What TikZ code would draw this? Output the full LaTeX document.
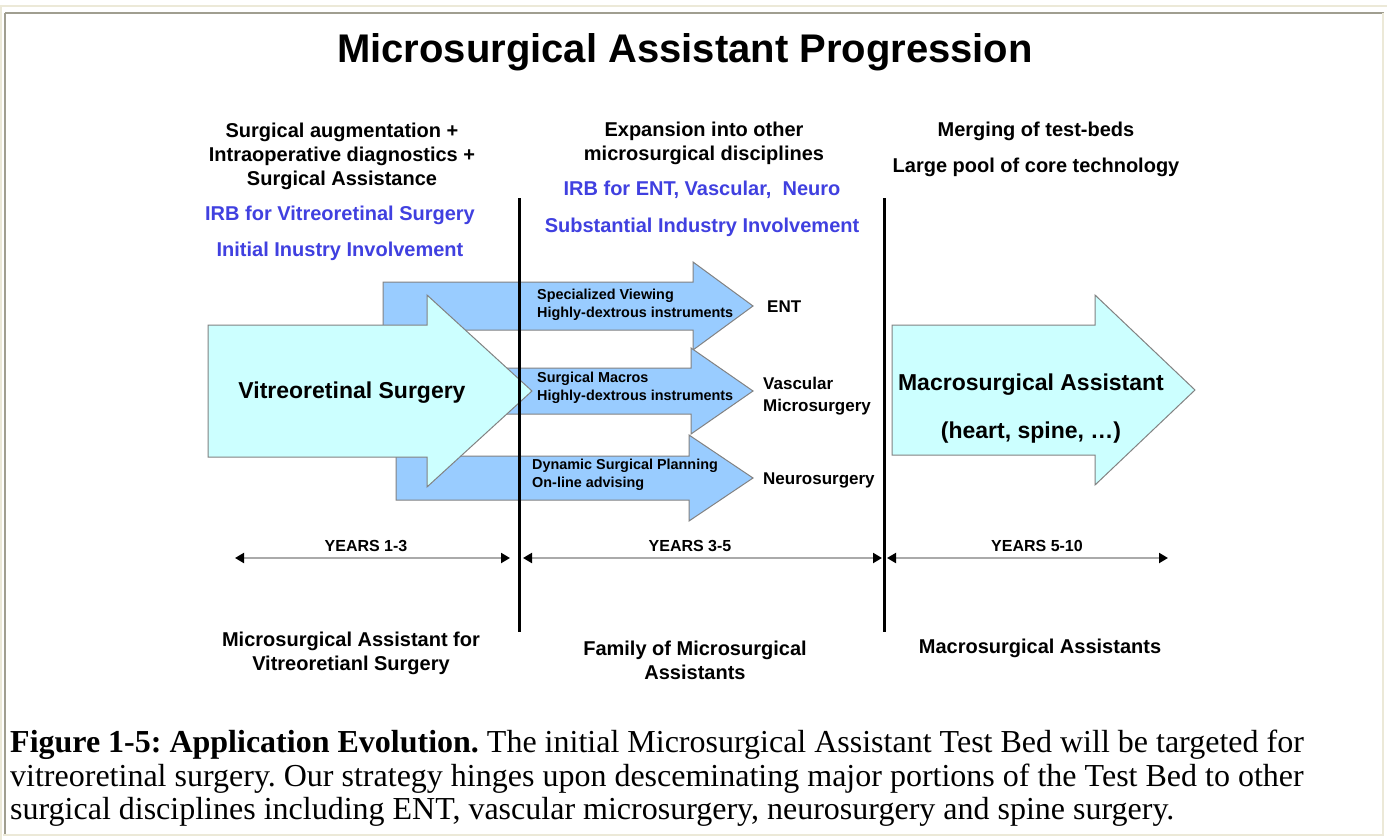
\documentclass[tikz,border=0pt]{standalone}
\usepackage{fontspec}
\setmainfont{Liberation Sans}
\newfontfamily\capfont{Liberation Serif}
\usetikzlibrary{arrows.meta}
\frenchspacing

\definecolor{armblue}{RGB}{153,204,255}
\definecolor{vitcyan}{RGB}{204,255,255}
\definecolor{irbblue}{RGB}{64,64,224}
\definecolor{edgegray}{RGB}{130,130,130}
\definecolor{spangray}{RGB}{170,170,170}
\definecolor{framegray}{RGB}{160,158,144}
\definecolor{framebeige}{RGB}{236,233,216}

\newcommand{\fsz}[2]{\fontsize{#1}{#2}\selectfont}
% block arrow: fill, left x, mid y, shaft half, head x, head half, tip x
\newcommand{\blockarrow}[7]{%
  \draw[blockedge, fill=#1] (#2,#3-#4) -- (#5,#3-#4) -- (#5,#3-#6) -- (#7,#3)
    -- (#5,#3+#6) -- (#5,#3+#4) -- (#2,#3+#4) -- cycle;}

\tikzset{
  blockedge/.style={draw=edgegray, line width=1pt, line join=miter},
  hdr/.style={font=\bfseries\fsz{20}{24}, align=center, inner sep=0pt},
  irb/.style={font=\bfseries\fsz{20}{24}, text=irbblue, inner sep=0pt},
  feat/.style={font=\bfseries\fsz{14.4}{17.5}, align=left, inner sep=0pt, anchor=west},
  dest/.style={font=\bfseries\fsz{17}{22}, align=left, inner sep=0pt, anchor=west},
  bigtxt/.style={font=\bfseries\fsz{23}{48}, align=center, inner sep=0pt},
  divider/.style={line width=3pt, black},
  yearspan/.style={draw=spangray, line width=2pt,
    {Triangle[length=9pt,width=10pt,color=black]}-{Triangle[length=9pt,width=10pt,color=black]}},
  yrs/.style={font=\bfseries\fsz{16}{16}, inner sep=0pt},
  captxt/.style={font=\capfont\fsz{32}{34}, inner sep=0pt, anchor=base west},
}

\begin{document}
\begin{tikzpicture}[x=1pt, y=-1pt]
  \useasboundingbox (0,0) rectangle (1387,840);
  \fill[white] (0,0) rectangle (1387,840);

  % page frame
  \draw[framebeige, line width=2pt] (0,6) -- (1387,6);
  \draw[framebeige, line width=2pt] (1,6) -- (1,840);
  \draw[framegray, line width=2pt] (5,13) -- (1384,13);
  \draw[framegray, line width=2pt] (5,13) -- (5,836);
  \draw[framebeige, line width=2pt] (1383,13) -- (1383,836);
  \draw[framebeige, line width=2pt] (3,835) -- (1384,835);

  \node[font=\bfseries\fsz{40}{40}, inner sep=0pt] (title) at (685,52) {Microsurgical Assistant Progression};

  % headers
  \node[hdr] (hdr1) at (342,156) {Surgical augmentation +\\Intraoperative diagnostics +\\Surgical Assistance};
  \node[irb] (irb1a) at (340,215) {IRB for Vitreoretinal Surgery};
  \node[irb] (irb1b) at (340,251) {Initial Inustry Involvement};
  \node[hdr] (hdr2) at (704,143) {Expansion into other\\microsurgical disciplines};
  \node[irb] (irb2a) at (702,190) {IRB for ENT, Vascular,\ \ Neuro};
  \node[irb] (irb2b) at (702,227) {Substantial Industry Involvement};
  \node[hdr] (hdr3a) at (1036,131) {Merging of test-beds};
  \node[hdr] (hdr3b) at (1036,167) {Large pool of core technology};

  % branch arrows
  \blockarrow{armblue}{383}{306}{24}{693}{44}{753}
  \blockarrow{armblue}{400}{391}{23}{691}{43}{753}
  \blockarrow{armblue}{396}{478}{22}{689}{43}{753}
  % main arrows
  \blockarrow{vitcyan}{208}{391}{66}{427}{96}{532}
  \blockarrow{vitcyan}{892}{390}{65}{1095}{95}{1195}

  % dividers
  \coordinate (d1top) at (519,198);
  \coordinate (d1bot) at (519,632);
  \coordinate (d2top) at (884,198);
  \coordinate (d2bot) at (884,632);
  \draw[divider] (d1top) -- (d1bot);
  \draw[divider] (d2top) -- (d2bot);

  \node[bigtxt] (vitr) at (352,393) {Vitreoretinal Surgery};
  \node[bigtxt] (macro) at (1031,409) {Macrosurgical Assistant\\(heart, spine, \dots)};

  \node[feat] (ent) at (537,305) {Specialized Viewing\\Highly-dextrous instruments};
  \node[feat] (vasc) at (537,388) {Surgical Macros\\Highly-dextrous instruments};
  \node[feat] (neuro) at (532,475) {Dynamic Surgical Planning\\On-line advising};

  \node[dest] (entlbl) at (767,307) {ENT};
  \node[dest] (vasclbl) at (763,396) {Vascular\\Microsurgery};
  \node[dest] (neurolbl) at (763,480) {Neurosurgery};

  % time line
  \coordinate (y1a) at (235,558);
  \coordinate (y1b) at (510,558);
  \coordinate (y2a) at (523,558);
  \coordinate (y2b) at (882,558);
  \coordinate (y3a) at (887,558);
  \coordinate (y3b) at (1168,558);
  \draw[yearspan] (y1a) -- (y1b);
  \draw[yearspan] (y2a) -- (y2b);
  \draw[yearspan] (y3a) -- (y3b);
  \node[yrs] (yrs1) at (366,546) {YEARS 1-3};
  \node[yrs] (yrs2) at (690,546) {YEARS 3-5};
  \node[yrs] (yrs3) at (1037,546) {YEARS 5-10};

  \node[hdr] (out1) at (351,653) {Microsurgical Assistant for\\Vitreoretianl Surgery};
  \node[hdr] (out2) at (695,660) {Family of Microsurgical\\Assistants};
  \node[hdr] (out3) at (1040,648) {Macrosurgical Assistants};

  % caption
  \node[captxt] (cap1) at (10,752) {\textbf{Figure 1-5: Application Evolution.} The initial Microsurgical Assistant Test Bed will be targeted for};
  \node[captxt] (cap2) at (10,786) {vitreoretinal surgery. Our strategy hinges upon desceminating major portions of the Test Bed to other};
  \node[captxt] (cap3) at (10,819) {surgical disciplines including ENT, vascular microsurgery, neurosurgery and spine surgery.};
\end{tikzpicture}
\end{document}
